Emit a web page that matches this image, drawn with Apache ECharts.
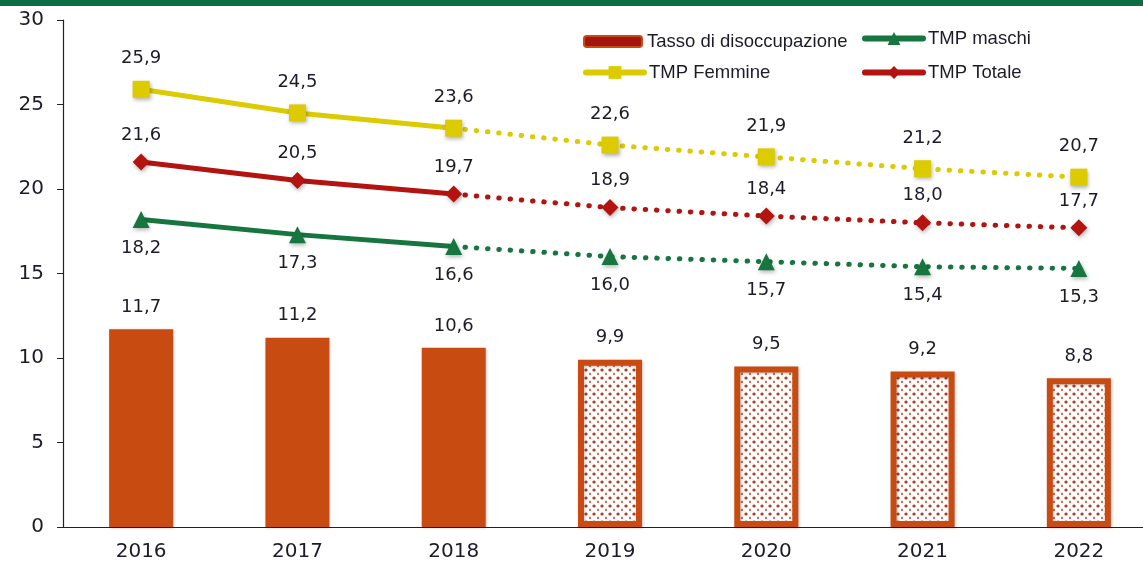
<!DOCTYPE html>
<html>
<head>
<meta charset="utf-8">
<script src="https://cdn.jsdelivr.net/npm/echarts@6/dist/echarts.min.js"></script>
<style>
html,body{margin:0;padding:0;background:#fff;overflow:hidden;width:1143px;height:566px;}
#band{position:absolute;left:0;top:0;width:1143px;height:6px;background:#0b6e44;}
#wrap{position:absolute;left:0;top:0;width:1143px;height:566px;overflow:hidden;}
#chart{position:absolute;left:0;top:0;width:1170px;height:566px;}
</style>
</head>
<body>
<div id="wrap"><div id="chart"></div></div>
<div id="band"></div>
<script>
const years = ['2016','2017','2018','2019','2020','2021','2022'];
const tasso = [11.7, 11.2, 10.6, 9.9, 9.5, 9.2, 8.8];
const femmine = [25.9, 24.5, 23.6, 22.6, 21.9, 21.2, 20.7];
const totale = [21.6, 20.5, 19.7, 18.9, 18.4, 18.0, 17.7];
const maschi = [18.2, 17.3, 16.6, 16.0, 15.7, 15.4, 15.3];
const lastActual = 2; // index of last observed year (2018)
const yTicks = [0, 5, 10, 15, 20, 25, 30];

const FONT = 'DejaVu Sans';
const LFONT = 'Liberation Sans';
const C_BAR = '#c84b11';
const C_FEM = '#dccb00';
const C_TOT = '#b3140f';
const C_MAS = '#17763f';
const TXT = '#1c1c28';

// dotted pattern for projected bars
const pat = document.createElement('canvas');
pat.width = 8; pat.height = 8;
const pc = pat.getContext('2d');
pc.fillStyle = '#fff'; pc.fillRect(0,0,8,8);
pc.fillStyle = '#b8341c';
pc.beginPath(); pc.arc(2,2,1.6,0,Math.PI*2); pc.fill();
pc.fillStyle = '#cf6248';
pc.beginPath(); pc.arc(6,6,1.15,0,Math.PI*2); pc.fill();

const fmt = v => Number(v).toFixed(1).replace('.', ',');

const shadow = {shadowBlur: 3, shadowColor: 'rgba(0,0,0,0.25)', shadowOffsetX: 1, shadowOffsetY: 1};
const barData = tasso.map((v,i) => i <= lastActual ? {
  value: v,
  itemStyle: Object.assign({color: C_BAR}, shadow)
} : {
  value: v,
  itemStyle: Object.assign({color: {image: pat, repeat: 'repeat'}, borderColor: C_BAR, borderWidth: 6}, shadow)
});

function solidPart(arr){ return arr.map((v,i) => i <= lastActual ? v : null); }
function dottedPart(arr){
  return arr.map((v,i) => {
    if (i < lastActual) return null;
    if (i === lastActual) return {value: v, symbol: 'none', label: {show: false}};
    return v;
  });
}

function lineSeries(name, data, color, symbol, size, pos, dist, dotted){
  return {
    name: name,
    type: 'line',
    data: data,
    symbol: symbol,
    symbolSize: size,
    showAllSymbol: true,
    connectNulls: false,
    z: dotted ? 3 : 4,
    lineStyle: dotted ? {color: color, width: 5, type: [0.5, 10.8], cap: 'round'} : {color: color, width: 5, cap: 'round'},
    itemStyle: {color: color, shadowBlur: 4, shadowColor: 'rgba(0,0,0,0.3)', shadowOffsetX: 1, shadowOffsetY: 2},
    label: {show: true, position: pos, distance: dist, formatter: p => fmt(p.value),
      fontFamily: FONT, fontSize: 18, color: TXT},
    emphasis: {disabled: true}
  };
}

const chart = echarts.init(document.getElementById('chart'));
const legendBase = {
  orient: 'horizontal', itemWidth: 58, itemHeight: 16, itemGap: 5,
  textStyle: {fontFamily: LFONT, fontSize: 18.5, color: TXT},
  selectedMode: false, padding: 0,
  lineStyle: {width: 6, cap: 'round'}
};
chart.setOption({
  animation: false,
  grid: {left: 63, width: 1094, top: 20, bottom: 39, containLabel: false},
  legend: [
    Object.assign({}, legendBase, {left: 583, top: 32, itemHeight: 11, itemGap: 6, data: [{name: 'Tasso di disoccupazione', itemStyle: {color: '#a3160f', borderColor: C_BAR, borderWidth: 2}}]}),
    Object.assign({}, legendBase, {left: 862, top: 29, data: ['TMP maschi']}),
    Object.assign({}, legendBase, {left: 583, top: 63, data: ['TMP Femmine']}),
    Object.assign({}, legendBase, {left: 862, top: 63, data: ['TMP Totale']})
  ],
  xAxis: {
    type: 'category', data: years,
    axisLine: {lineStyle: {color: '#222', width: 1.2}},
    axisTick: {show: false},
    axisLabel: {fontFamily: FONT, fontSize: 20, color: TXT, margin: 15}
  },
  yAxis: {
    type: 'value', min: 0, max: 30, interval: 5,
    axisLine: {show: true, lineStyle: {color: '#222', width: 1.2}},
    axisTick: {show: true, length: 6, lineStyle: {color: '#222'}},
    splitLine: {show: false},
    axisLabel: {fontFamily: FONT, fontSize: 20, color: TXT, margin: 19,
      formatter: v => yTicks.indexOf(v) >= 0 ? String(v) : ''}
  },
  series: [
    {
      name: 'Tasso di disoccupazione', type: 'bar', data: barData, barWidth: 64, z: 2,
      label: {show: true, position: 'top', distance: 13, formatter: p => fmt(p.value),
        fontFamily: FONT, fontSize: 18, color: TXT},
      emphasis: {disabled: true}
    },
    lineSeries('TMP maschi', solidPart(maschi), C_MAS, 'triangle', 17, 'bottom', 11, false),
    lineSeries('TMP Femmine', solidPart(femmine), C_FEM, 'rect', 17, 'top', 13, false),
    lineSeries('TMP Totale', solidPart(totale), C_TOT, 'diamond', 17, 'top', 9.5, false),
    lineSeries('TMP maschi (stima)', dottedPart(maschi), C_MAS, 'triangle', 17, 'bottom', 11, true),
    lineSeries('TMP Femmine (stima)', dottedPart(femmine), C_FEM, 'rect', 17, 'top', 13, true),
    lineSeries('TMP Totale (stima)', dottedPart(totale), C_TOT, 'diamond', 17, 'top', 9.5, true)
  ]
});
</script>
</body>
</html>
